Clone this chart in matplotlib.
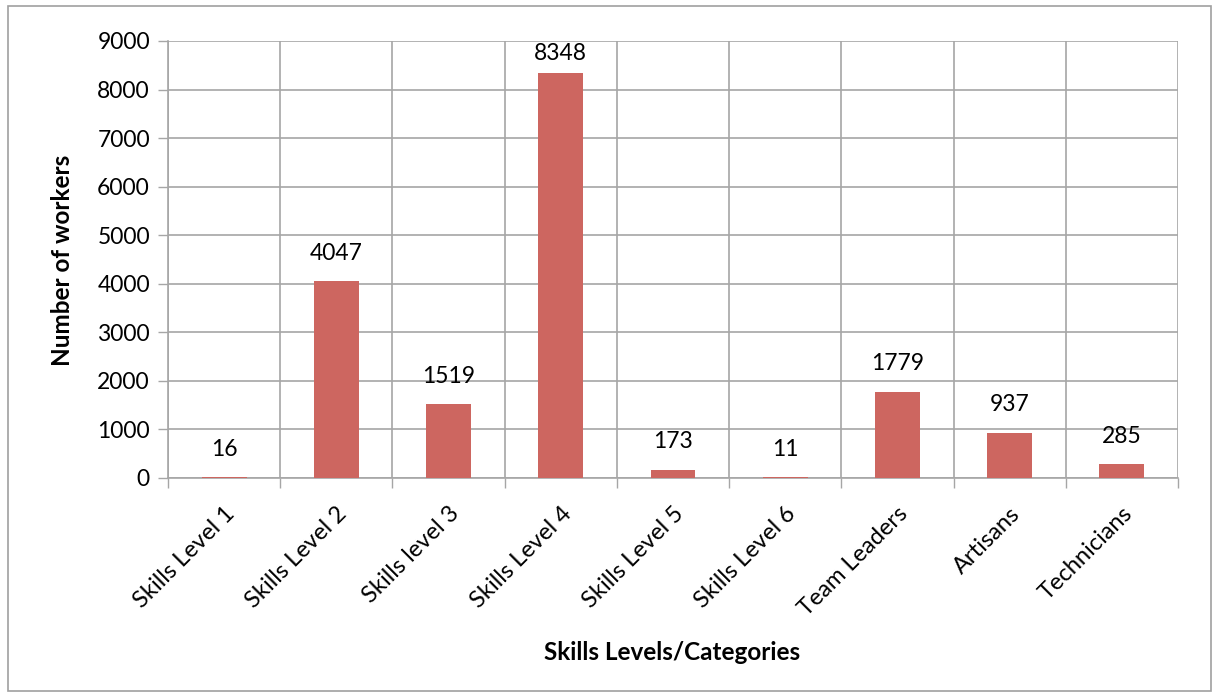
import matplotlib
matplotlib.use("Agg")
import matplotlib.pyplot as plt
from matplotlib.patches import Rectangle
import numpy as np

categories = ["Skills Level 1", "Skills Level 2", "Skills level 3", "Skills Level 4",
              "Skills Level 5", "Skills Level 6", "Team Leaders", "Artisans", "Technicians"]
workers = [16, 4047, 1519, 8348, 173, 11, 1779, 937, 285]
y_ticks = [0, 1000, 2000, 3000, 4000, 5000, 6000, 7000, 8000, 9000]

plt.rcParams['font.family'] = ['Lato', 'DejaVu Sans']

grid_color = "#a6a6a6"
bar_color = "#cd6660"

fig = plt.figure(figsize=(12.19, 7.0), dpi=100)
ax_h_px = 478 - 41
ax = fig.add_axes([168 / 1219, 1 - 478 / 700, (1178 - 168) / 1219, ax_h_px / 700])

x = np.arange(len(categories))
ax.bar(x, workers, width=0.4, color=bar_color, zorder=3)

ymax = 9000
for xi, v in zip(x, workers):
    # label sits ~28px above the bar, pushed down if it would leave the plot area
    room_px = (ymax - v) / ymax * ax_h_px - 12
    off_px = min(28, room_px)
    ax.annotate(str(v), (xi, v), xytext=(0, off_px * 0.72), textcoords="offset points",
                ha="center", va="center", fontsize=16.5)

ax.set_xlim(-0.5, len(categories) - 0.5)
ax.set_ylim(0, ymax)
ax.set_yticks(y_ticks)
ax.set_yticklabels([str(t) for t in y_ticks], fontsize=16.5)

# category boundaries act as vertical grid lines and tick positions
bounds = np.arange(len(categories) + 1) - 0.5
ax.set_xticks(bounds)
ax.set_xticklabels([])
ax.set_xticks(x, minor=True)
ax.set_xticklabels(categories, minor=True, rotation=45, ha="right",
                   rotation_mode="anchor", fontsize=17)
ax.tick_params(axis="x", which="minor", length=0, pad=18)
ax.tick_params(axis="x", which="major", length=7, width=1, color=grid_color)
ax.tick_params(axis="y", length=7, width=1, color=grid_color, pad=6)

ax.grid(True, which="major", color=grid_color, linewidth=1.2, zorder=0)
ax.set_axisbelow(True)
for side in ["top", "right"]:
    ax.spines[side].set_visible(False)
for side in ["left", "bottom"]:
    ax.spines[side].set_color(grid_color)
    ax.spines[side].set_linewidth(1.2)

fig.text(63 / 1219, 1 - 260 / 700, "Number of workers", ha="center", va="center",
         rotation=90, fontsize=17.5, fontweight="bold")
fig.text(672 / 1219, 1 - 653 / 700, "Skills Levels/Categories", ha="center",
         va="center", fontsize=17.5, fontweight="bold")

# outer chart border
fig.patches.append(Rectangle((8 / 1219, 1 - 691 / 700), 1203 / 1219, 685 / 700,
                             transform=fig.transFigure, fill=False,
                             edgecolor="#a0a0a0", linewidth=1.2))

fig.savefig("out.png", dpi=100)
